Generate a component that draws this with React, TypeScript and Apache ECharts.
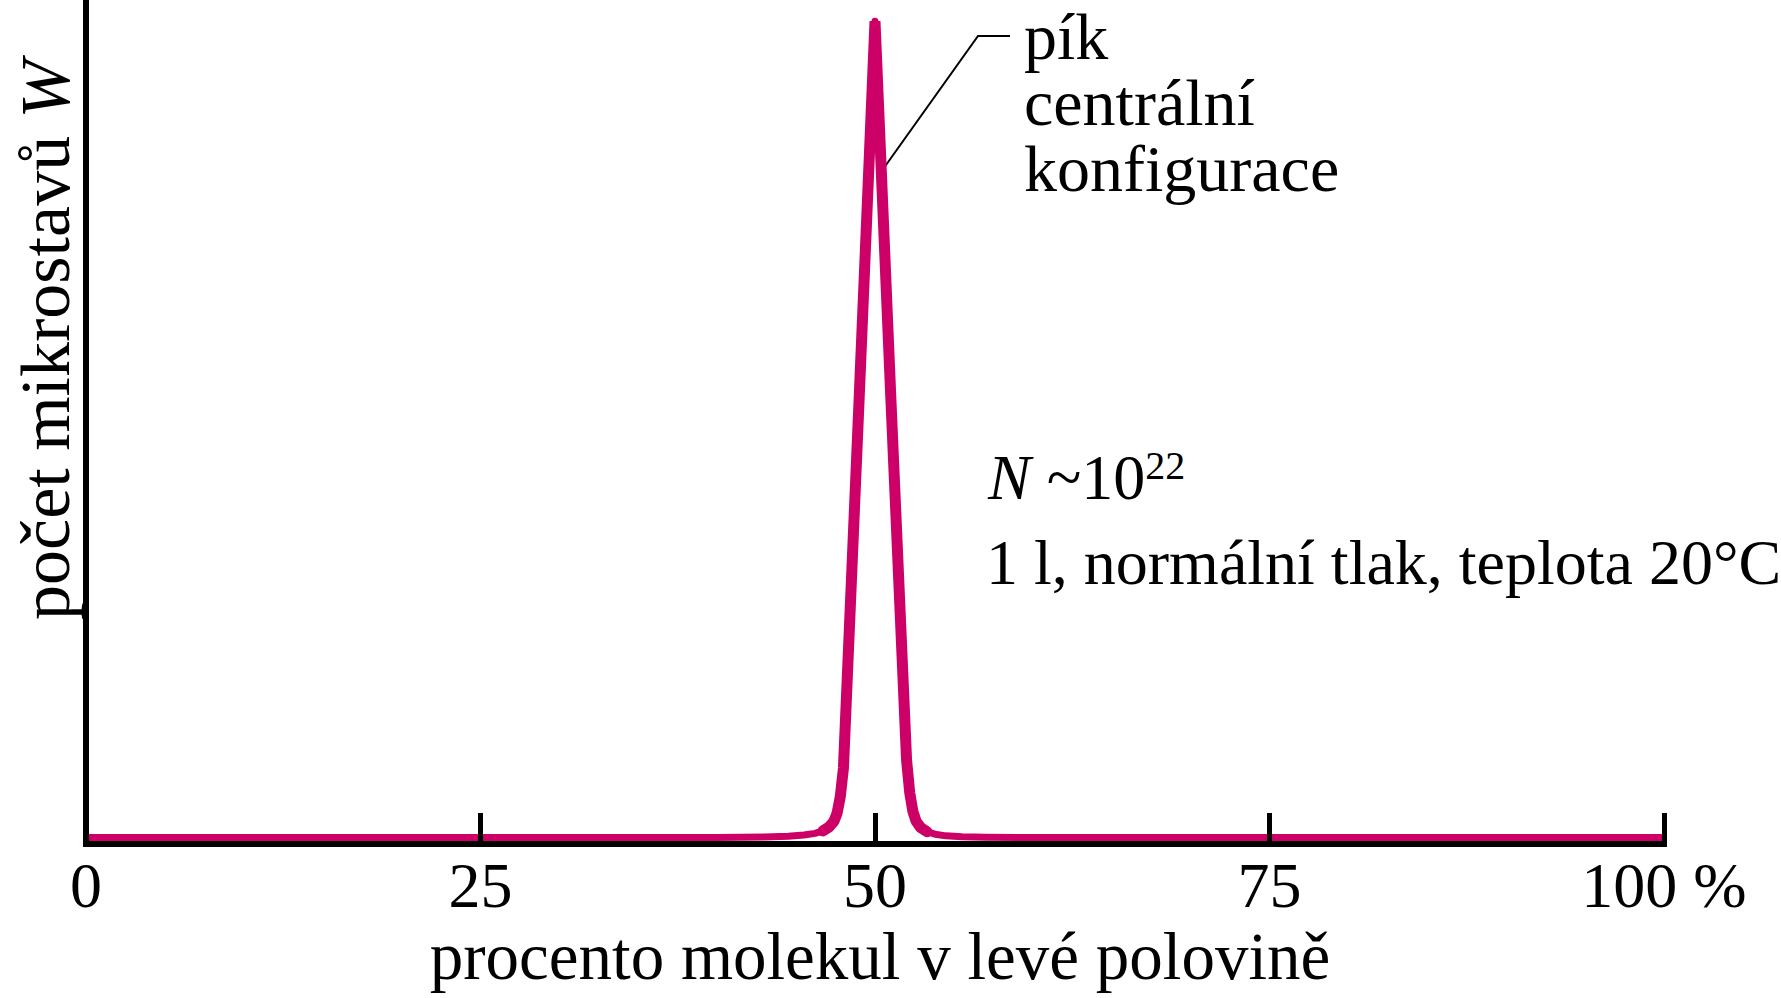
import React, { useEffect, useRef } from "react";
import * as echarts from "echarts";

// Share of molecules in the left half (%) and relative number of microstates W
const percentLeft = [
  0, 20, 40, 43, 44.5, 45.5, 46.2, 46.7, 47.1, 47.4, 47.6, 47.8, 48.0, 49.0, 50.0,
  51.0, 52.0, 52.2, 52.4, 52.6, 52.9, 53.3, 53.8, 54.5, 55.5, 57, 60, 80, 100,
];
const microstates = [
  0, 0, 0, 0.05, 0.15, 0.3, 0.5, 0.8, 1.3, 2.0, 3.0, 5.0, 8.5, 54, 100,
  54, 9.5, 5.5, 3.2, 2.0, 1.2, 0.7, 0.4, 0.2, 0.1, 0.03, 0, 0, 0,
];
const xTicks = [0, 25, 50, 75, 100];
const xTickLabels = ["0", "25", "50", "75", "100 %"];

const xTitle = "procento molekul v levé polovině";
const yTitle = "počet mikrostavů ";
const yTitleSymbol = "W";
const peakNote = ["pík", "centrální", "konfigurace"];
const sampleSize = ["N", " ~10", "22"];
const conditions = "1 l, normální tlak, teplota 20°C";

const SERIF = '"Liberation Serif", "DejaVu Serif", "Times New Roman", serif';
const MAGENTA = "#cc0066";

export default function App() {
  const ref = useRef<HTMLDivElement>(null);

  useEffect(() => {
    if (!ref.current) return;
    const chart = echarts.init(ref.current, undefined, { renderer: "svg" });

    const curve = percentLeft.map((x, i) => [x, microstates[i]]);
    const core = curve.filter(([x]) => x >= 46.7 && x <= 53.3);

    chart.setOption({
      animation: false,
      backgroundColor: "#ffffff",
      grid: { left: 86, right: 117, top: 0, bottom: 154, containLabel: false },
      xAxis: {
        type: "value",
        min: 0,
        max: 100,
        interval: 25,
        z: 5,
        axisLine: {
          show: true,
          onZero: false,
          lineStyle: { color: "#000", width: 6, cap: "square" },
        },
        axisTick: {
          show: true,
          inside: true,
          length: 31,
          lineStyle: { color: "#000", width: 5 },
        },
        axisLabel: {
          show: true,
          margin: 9,
          color: "#000",
          fontFamily: SERIF,
          fontSize: 64,
          formatter: (v: number) => {
            const i = xTicks.indexOf(v);
            return i >= 0 ? xTickLabels[i] : "";
          },
        },
        splitLine: { show: false },
      },
      yAxis: {
        type: "value",
        min: -0.8,
        max: 102.6,
        z: 5,
        axisLine: {
          show: true,
          lineStyle: { color: "#000", width: 6, cap: "square" },
        },
        axisTick: { show: false },
        axisLabel: { show: false },
        splitLine: { show: false },
      },
      series: [
        {
          name: "W",
          type: "line",
          data: curve,
          showSymbol: false,
          smooth: false,
          lineStyle: { color: MAGENTA, width: 7, join: "round", cap: "butt" },
          z: 2,
        },
        {
          name: "W peak",
          type: "line",
          data: core,
          showSymbol: false,
          smooth: false,
          lineStyle: { color: MAGENTA, width: 11, join: "bevel", cap: "round" },
          z: 3,
        },
      ],
      graphic: [
        {
          type: "text",
          x: 45,
          y: 340,
          rotation: Math.PI / 2,
          style: {
            text: `{a|${yTitle}}{i|${yTitleSymbol}}`,
            align: "center",
            verticalAlign: "middle",
            rich: {
              a: { fontFamily: SERIF, fontSize: 70, fill: "#000" },
              i: { fontFamily: SERIF, fontSize: 70, fontStyle: "italic", fill: "#000" },
            },
          },
        },
        {
          type: "text",
          x: 880,
          y: 956,
          style: {
            text: xTitle,
            fontFamily: SERIF,
            fontSize: 67,
            fill: "#000",
            align: "center",
            verticalAlign: "middle",
          },
        },
        {
          type: "polyline",
          shape: { points: [[881, 172], [978, 36], [1010, 36]] },
          style: { stroke: "#000", lineWidth: 2, fill: "none" },
        },
        {
          type: "text",
          x: 1024,
          y: 3,
          style: {
            text: peakNote.join("\n"),
            fontFamily: SERIF,
            fontSize: 66,
            lineHeight: 66,
            fill: "#000",
            align: "left",
            verticalAlign: "top",
          },
        },
        {
          type: "text",
          x: 988,
          y: 477,
          style: {
            text: `{i|${sampleSize[0]}}{n|${sampleSize[1]}}{s|${sampleSize[2]}}`,
            align: "left",
            verticalAlign: "middle",
            rich: {
              i: { fontFamily: SERIF, fontSize: 64, fontStyle: "italic", fill: "#000" },
              n: { fontFamily: SERIF, fontSize: 64, fill: "#000" },
              s: {
                fontFamily: SERIF,
                fontSize: 40,
                fill: "#000",
                verticalAlign: "top",
                padding: [0, 0, 22, 0],
              },
            },
          },
        },
        {
          type: "text",
          x: 986,
          y: 562,
          style: {
            text: conditions,
            fontFamily: SERIF,
            fontSize: 64,
            fill: "#000",
            align: "left",
            verticalAlign: "middle",
          },
        },
      ],
    });

    return () => chart.dispose();
  }, []);

  return (
    <div
      ref={ref}
      style={{ position: "absolute", left: 0, top: 0, width: 1781, height: 998 }}
    />
  );
}
